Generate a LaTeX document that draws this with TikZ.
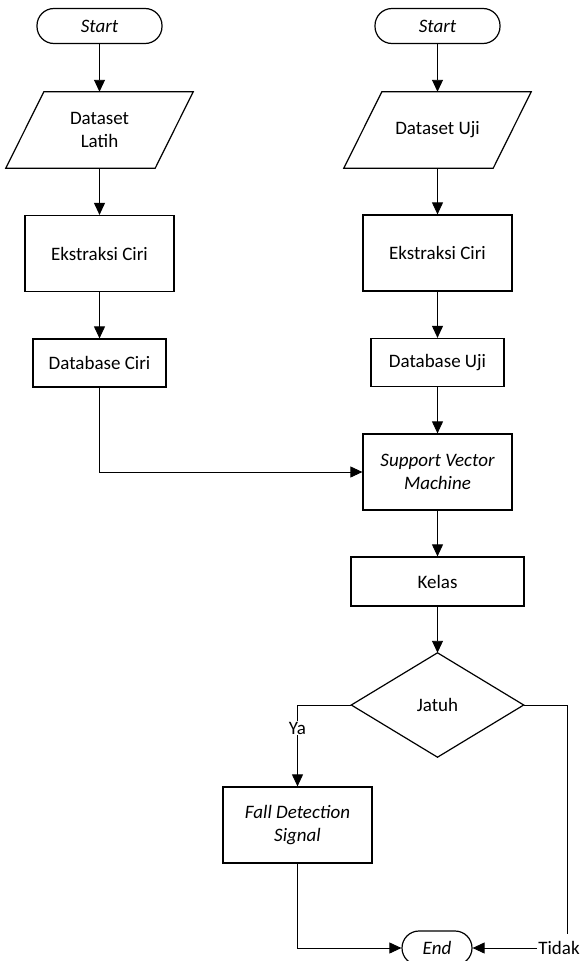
\documentclass[tikz,border=0pt]{standalone}
\usepackage{fontspec}
\setmainfont{Carlito}
\usetikzlibrary{arrows.meta,calc}
\begin{document}
\begin{tikzpicture}[x=1pt,y=-1pt,
  every node/.style={font=\fontsize{19}{23.5}\selectfont, inner sep=0pt, align=center},
  boxstyle/.style={draw=black, line width=1.2pt, rectangle, minimum width=149pt, minimum height=76pt},
  dbstyle/.style={draw=black, line width=1.2pt, rectangle, minimum width=133pt, minimum height=48pt},
  termstyle/.style={draw=black, line width=1.2pt, rectangle, rounded corners=17pt, minimum width=125pt, minimum height=35pt, font=\fontsize{19}{23.5}\selectfont\itshape},
  iostyle/.style={rectangle, minimum width=149pt, minimum height=76pt},
  decstyle/.style={inner sep=0pt},
  lblstyle/.style={fill=white, inner sep=1pt},
  arr/.style={draw=black, line width=0.9pt, -{Triangle[length=12pt,width=11pt]}},
  conn/.style={draw=black, line width=0.9pt}
]
\useasboundingbox (0,0) rectangle (582,961);

% left column
\node[termstyle] (startL) at (99.5,26) {Start};
\node[iostyle] (dl) at (99.5,130) {Dataset\\Latih};
\node[boxstyle] (ekL) at (99.5,253.5) {Ekstraksi Ciri};
\node[dbstyle] (dbL) at (99.5,363) {Database Ciri};

% right column
\node[termstyle] (startR) at (437.5,26) {Start};
\node[iostyle] (du) at (437.5,130) {Dataset Uji};
\node[boxstyle] (ekR) at (437.5,253) {Ekstraksi Ciri};
\node[dbstyle] (dbU) at (437.5,362.5) {Database Uji};
\node[boxstyle, font=\fontsize{19}{23.5}\selectfont\itshape] (svm) at (437.5,472) {Support Vector\\Machine};
\node[boxstyle, minimum width=173pt, minimum height=49pt] (kelas) at (437.5,581.5) {Kelas};

% decision
\node[decstyle, minimum width=172pt, minimum height=104pt] (jatuh) at (437.5,705) {Jatuh};
\draw[line width=1.2pt] (jatuh.north) -- (jatuh.east) -- (jatuh.south) -- (jatuh.west) -- cycle;

\node[boxstyle, font=\fontsize{19}{23.5}\selectfont\itshape] (fall) at (297.5,825) {Fall Detection\\Signal};
\node[termstyle, minimum width=70pt, minimum height=34pt] (endn) at (437,948) {End};

\node[lblstyle] (ya) at (297.5,728) {Ya};
\node[lblstyle] (tidak) at (559,948) {Tidak};
\coordinate (tc) at (567,934);

% parallelograms
\draw[line width=1.2pt] ($(dl.north west)+(19,0)$) -- ($(dl.north east)+(19,0)$) -- ($(dl.south east)+(-19,0)$) -- ($(dl.south west)+(-19,0)$) -- cycle;
\draw[line width=1.2pt] ($(du.north west)+(19,0)$) -- ($(du.north east)+(19,0)$) -- ($(du.south east)+(-19,0)$) -- ($(du.south west)+(-19,0)$) -- cycle;

% connectors
\draw[arr] (startL) -- (dl);
\draw[arr] (dl) -- (ekL);
\draw[arr] (ekL) -- (dbL);
\draw[arr] (dbL.south) |- (svm.west);

\draw[arr] (startR) -- (du);
\draw[arr] (du) -- (ekR);
\draw[arr] (ekR) -- (dbU);
\draw[arr] (dbU) -- (svm);
\draw[arr] (svm) -- (kelas);
\draw[arr] (kelas.south) -- (jatuh.north);

\draw[conn] (jatuh.west) -| (ya.north);
\draw[arr] (ya.south) -- (fall.north);
\draw[arr] (fall.south) |- (endn.west);

\draw[conn] (jatuh.east) -| (tc);
\draw[arr] (tidak.west) -- (endn.east);
\end{tikzpicture}
\end{document}
